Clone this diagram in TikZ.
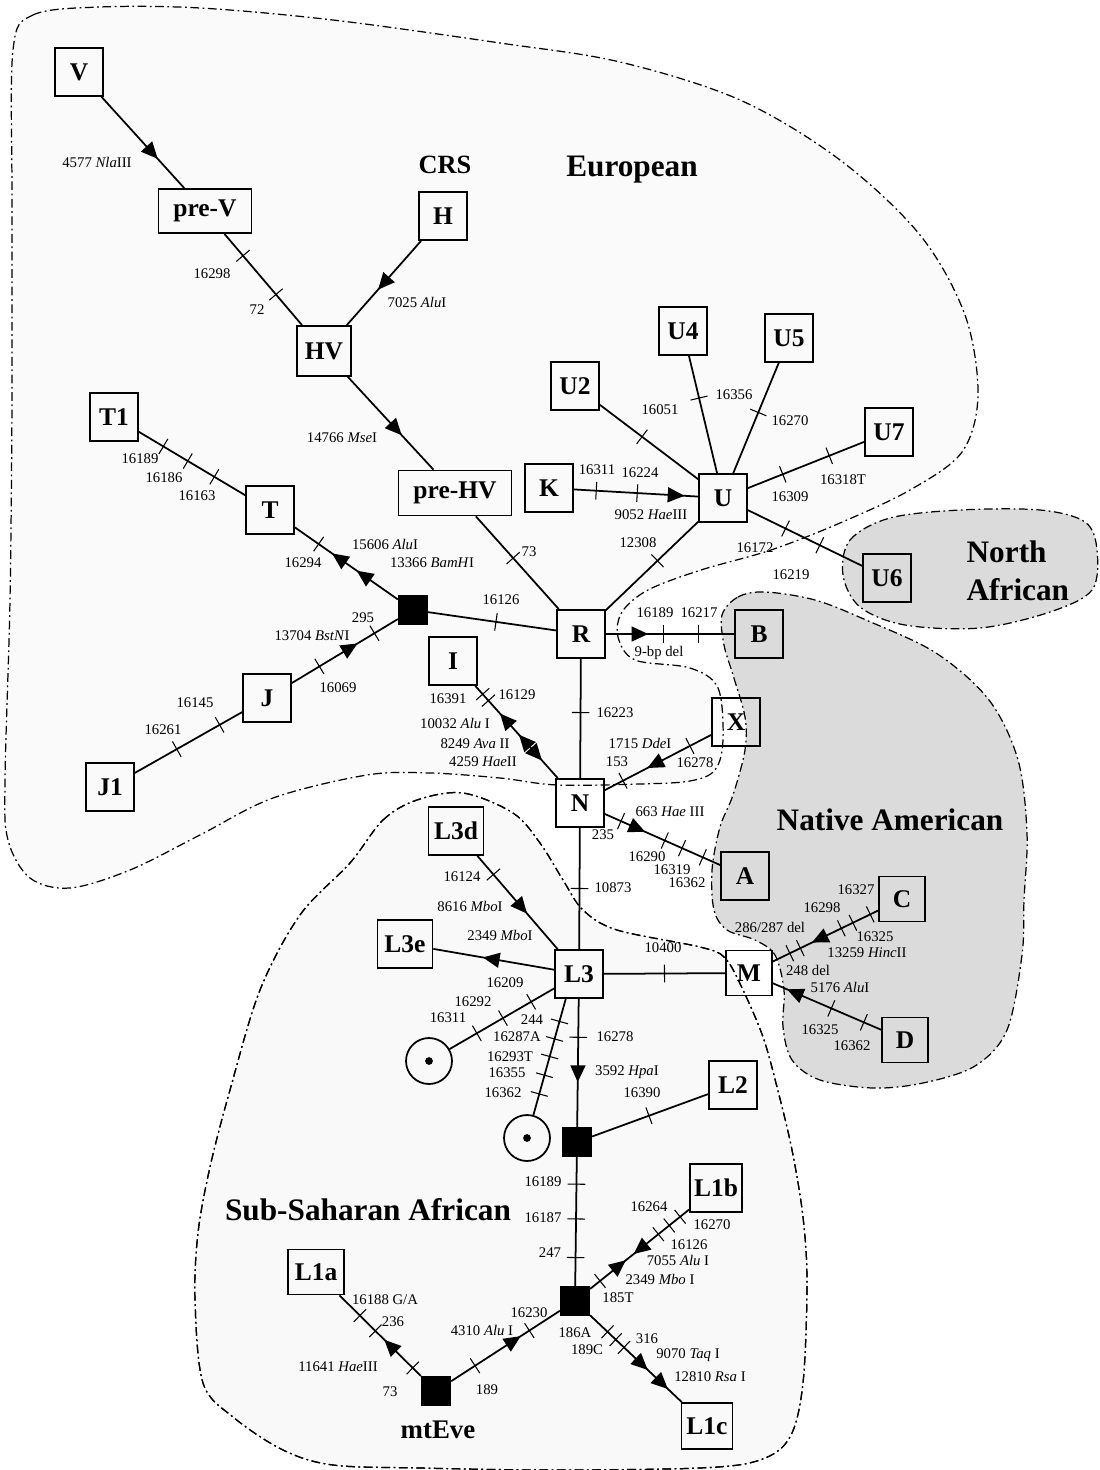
\documentclass[tikz,border=0pt]{standalone}
\usepackage{fontspec}
\setmainfont{Liberation Serif}
\usepackage{tikz}
\usetikzlibrary{arrows.meta, decorations.markings}
\tikzset{every picture/.style={line width=1pt}}

\begin{document}
\begin{tikzpicture}[x=0.02cm, y=-0.02cm,
    hap/.style={draw, minimum width=0.96cm, minimum height=0.96cm, inner sep=1pt,
      font=\fontsize{14.5}{16}\selectfont\bfseries},
    blk/.style={draw, fill=black, minimum size=0.57cm, inner sep=0pt},
    ring/.style={draw, circle, minimum size=0.92cm, inner sep=0pt},
    lab/.style={inner sep=1pt, font=\fontsize{8.4}{9.5}\selectfont},
    grp/.style={inner sep=1pt, font=\fontsize{17.8}{21.5}\selectfont\bfseries},
    zone/.style={line width=0.7pt, dash pattern=on 5pt off 2pt on 1pt off 2pt},
    tk/.style={postaction={decorate, decoration={markings,
      mark=at position #1 with {\draw[line width=0.6pt] (0,-5pt) -- (0,5pt);}}}},
    ar/.style={postaction={decorate, decoration={markings,
      mark=at position #1 with {\arrow{Triangle[length=9.5pt,width=8.5pt]}}}}},
    ra/.style={postaction={decorate, decoration={markings,
      mark=at position #1 with {\arrowreversed{Triangle[length=9.5pt,width=8.5pt]}}}}}]
  \useasboundingbox (0,0) rectangle (1099,1470);

  % regions
  \filldraw[zone, fill=gray!4] plot[smooth cycle, tension=0.55] coordinates {
    (13,50) (33,15) (100,7) (200,8) (333,20) (500,43) (620,62) (740,100) (840,160)
    (920,235) (965,315) (978,395) (962,452) (910,490) (840,523) (771,550) (701,570)
    (648,590) (622,612) (618,637) (635,660) (690,668) (718,688) (723,740) (715,770)
    (690,781) (640,784) (557,785) (500,778) (430,773) (367,775) (273,798) (200,835)
    (130,870) (70,888) (30,878) (8,840) (5,780) (10,600) (12,400) (12,200)};
  \filldraw[zone, fill=gray!5] plot[smooth cycle, tension=0.55] coordinates {
    (350,863) (383,820) (417,800) (463,793) (513,813) (540,843) (563,880) (583,910)
    (617,930) (700,947) (725,958) (743,990) (763,1037) (777,1087) (792,1150)
    (803,1217) (807,1283) (803,1383) (790,1437) (760,1460) (700,1468) (550,1470)
    (420,1468) (333,1465) (283,1450) (233,1417) (203,1383) (195,1300) (198,1233)
    (210,1167) (230,1090) (260,990) (300,915)};
  \filldraw[zone, fill=gray!28] plot[smooth cycle, tension=0.55] coordinates {
    (843,575) (850,540) (890,518) (960,510) (1040,510) (1085,522) (1097,550)
    (1092,590) (1050,612) (980,628) (905,625) (860,607)};
  \filldraw[zone, fill=gray!28] plot[smooth cycle, tension=0.55] coordinates {
    (722,615) (738,597) (765,592) (815,600) (866,620) (936,653) (989,700)
    (1018,760) (1027,833) (1024,900) (1022,955) (1007,1030) (975,1066) (923,1083)
    (873,1088) (820,1080) (792,1060) (783,1027) (784,990) (775,955) (755,940)
    (727,930) (714,910) (712,870) (720,827) (733,795) (745,750) (745,717)
    (733,675) (724,645)};
  \draw[zone] plot[smooth cycle, tension=0.55] coordinates {
    (350,863) (383,820) (417,800) (463,793) (513,813) (540,843) (563,880) (583,910)
    (617,930) (700,947) (725,958) (743,990) (763,1037) (777,1087) (792,1150)
    (803,1217) (807,1283) (803,1383) (790,1437) (760,1460) (700,1468) (550,1470)
    (420,1468) (333,1465) (283,1450) (233,1417) (203,1383) (195,1300) (198,1233)
    (210,1167) (230,1090) (260,990) (300,915)};

  \node[grp] (eu) at (632,170) {European};
  \node[grp, align=left, anchor=west] (na) at (964,571) {North\\African};
  \node[grp] (am) at (890,820) {Native American};
  \node[grp] (ss) at (368,1210) {Sub-Saharan African};
  \node[inner sep=1pt, font=\fontsize{15}{17}\selectfont\bfseries] (crs) at (445,165) {CRS};
  \node[inner sep=1pt, font=\fontsize{15.3}{17}\selectfont\bfseries] (eve) at (438,1430) {mtEve};

  % haplogroups
  \node[hap] (V) at (79,72) {V};
  \node[hap, minimum width=1.86cm, minimum height=0.88cm] (preV) at (205,211) {pre-V};
  \node[hap] (H) at (443,216) {H};
  \node[hap, minimum width=1.08cm, minimum height=1cm] (HV) at (324,351) {HV};
  \node[hap, minimum width=2.26cm, minimum height=0.9cm] (preHV) at (455,493) {pre-HV};
  \node[hap] (T1) at (114,417) {T1};
  \node[hap] (T) at (270,510) {T};
  \node[blk] (b1) at (413,610) {};
  \node[hap] (J) at (267,698) {J};
  \node[hap] (J1) at (110,787) {J1};
  \node[hap] (I) at (453,661) {I};
  \node[hap] (R) at (581,634) {R};
  \node[hap] (K) at (549,488) {K};
  \node[hap] (U) at (723,498) {U};
  \node[hap] (U2) at (575,386) {U2};
  \node[hap] (U4) at (683,331) {U4};
  \node[hap] (U5) at (789,338) {U5};
  \node[hap] (U7) at (889,432) {U7};
  \node[hap] (U6) at (887,578) {U6};
  \node[hap] (B) at (759,634) {B};
  \node[hap] (X) at (736,722) {X};
  \node[hap] (N) at (580,803) {N};
  \node[hap] (A) at (745,876) {A};
  \node[hap, minimum width=1.1cm] (L3d) at (456,831) {L3d};
  \node[hap, minimum width=1.1cm] (L3e) at (405,944) {L3e};
  \node[hap] (L3) at (579,974) {L3};
  \node[hap, minimum width=0.92cm, minimum height=0.9cm] (M) at (749,973) {M};
  \node[hap, minimum width=0.92cm, minimum height=0.9cm] (C) at (902,899) {C};
  \node[hap, minimum width=0.92cm, minimum height=0.9cm] (D) at (905,1040) {D};
  \node[ring] (c1) at (429,1061) {};
  \node[ring] (c2) at (527,1138) {};
  \node[blk] (b2) at (577,1142) {};
  \node[hap] (L2) at (733,1085) {L2};
  \node[hap, minimum width=1.04cm] (L1b) at (716,1188) {L1b};
  \node[blk] (b3) at (575,1301) {};
  \node[hap, minimum width=1.02cm, minimum height=0.92cm] (L1c) at (707,1426) {L1c};
  \node[hap, minimum width=1.12cm, minimum height=0.9cm] (L1a) at (316,1272) {L1a};
  \node[blk] (mt) at (436,1391) {};
  \coordinate (L3s) at (566,998);
  \fill (c1.center) circle (2.2pt);
  \fill (c2.center) circle (2.2pt);

  \draw
    (V) edge[ar=0.68] (preV)
    (preV) edge[tk=0.24, tk=0.665] (HV)
    (H) edge[ar=0.58] (HV)
    (HV) edge[ar=0.63] (preHV)
    (preHV) edge[tk=0.45] (R)
    (R) edge[tk=0.56] (U)
    (K) edge[tk=0.18, tk=0.51, ar=0.89] (U)
    (U2) edge[tk=0.43] (U)
    (U4) edge[tk=0.36] (U)
    (U5) edge[tk=0.45] (U)
    (U) edge[tk=0.30, tk=0.70] (U7)
    (U) edge[tk=0.33, tk=0.63] (U6)
    (b1) edge[tk=0.53] (R)
    (b1) edge[ar=0.40, ar=0.64, tk=0.77] (T)
    (T) edge[tk=0.29, tk=0.54, tk=0.77] (T1)
    (J) edge[tk=0.26, ar=0.62, tk=0.78] (b1)
    (J) edge[tk=0.21, tk=0.61] (J1)
    (R) edge[ar=0.33, tk=0.45, tk=0.72] (B)
    (R) edge[tk=0.45] (N)
    (I) edge[tk=0.09, tk=0.16, ra=0.30, ra=0.53, ar=0.81] (N)
    (X) edge[tk=0.20, ar=0.60, tk=0.83] (N)
    (N) edge[tk=0.14, ar=0.35, tk=0.52, tk=0.67, tk=0.85] (A)
    (N) edge[tk=0.50] (L3)
    (L3d) edge[tk=0.20, ar=0.62] (L3)
    (L3) edge[ar=0.59] (L3e)
    (L3) edge[tk=0.50] (M)
    (L3) edge[tk=0.22, tk=0.49, tk=0.74] (c1)
    (L3s) edge[tk=0.20, tk=0.35, tk=0.50, tk=0.66, tk=0.82] (c2)
    (L3) edge[tk=0.30, ar=0.65] (b2)
    (b2) edge[tk=0.49] (L2)
    (b2) edge[tk=0.21, tk=0.48, tk=0.78] (b3)
    (b3) edge[tk=0.10, ar=0.36, ra=0.44, tk=0.69, tk=0.80, tk=0.91] (L1b)
    (b3) edge[tk=0.19, tk=0.28, tk=0.37, ar=0.63, ar=0.85] (L1c)
    (mt) edge[tk=0.22, ar=0.64, tk=0.72] (b3)
    (mt) edge[tk=0.10, ar=0.45, tk=0.56, tk=0.75] (L1a)
    (C) edge[tk=0.075, tk=0.24, tk=0.35, ar=0.63, tk=0.74, tk=0.84] (M)
    (D) edge[tk=0.16, tk=0.46, ar=0.87] (M);

  % mutations
  \node[lab] (m4577) at (97,162) {4577 \textit{Nla}III};
  \node[lab] (m16298) at (212,274) {16298};
  \node[lab] (m72) at (257,310) {72};
  \node[lab] (m7025) at (417,302) {7025 \textit{Alu}I};
  \node[lab] (m14766) at (342,438) {14766 \textit{Mse}I};
  \node[lab] (m16189) at (140,459) {16189};
  \node[lab] (m16186) at (164,478) {16186};
  \node[lab] (m16163) at (197,496) {16163};
  \node[lab] (m16294) at (303,563) {16294};
  \node[lab] (m15606) at (385,544) {15606 \textit{Alu}I};
  \node[lab] (m13366) at (432,563) {13366 \textit{BamH}I};
  \node[lab] (m295) at (363,618) {295};
  \node[lab] (m13704) at (312,636) {13704 \textit{BstN}I};
  \node[lab] (m16069) at (338,688) {16069};
  \node[lab] (m16145) at (195,703) {16145};
  \node[lab] (m16261) at (163,730) {16261};
  \node[lab] (m16391) at (448,699) {16391};
  \node[lab] (m16129) at (517,695) {16129};
  \node[lab] (m10032) at (455,723) {10032 \textit{Alu} I};
  \node[lab] (m8249) at (475,744) {8249 \textit{Ava} II};
  \node[lab] (m4259) at (483,762) {4259 \textit{Hae}II};
  \node[lab] (m16223) at (615,713) {16223};
  \node[lab] (m1715) at (640,743) {1715 \textit{Dde}I};
  \node[lab] (m153) at (617,762) {153};
  \node[lab] (m16278a) at (695,763) {16278};
  \node[lab] (m663) at (670,812) {663 \textit{Hae} III};
  \node[lab] (m235) at (603,835) {235};
  \node[lab] (m16290) at (647,857) {16290};
  \node[lab] (m16319) at (672,870) {16319};
  \node[lab] (m16362a) at (687,883) {16362};
  \node[lab] (m10873) at (613,888) {10873};
  \node[lab] (m16051) at (660,410) {16051};
  \node[lab] (m16356) at (734,395) {16356};
  \node[lab] (m16270a) at (790,421) {16270};
  \node[lab] (m16309) at (790,497) {16309};
  \node[lab] (m16318) at (843,480) {16318T};
  \node[lab] (m16172) at (755,548) {16172};
  \node[lab] (m16219) at (791,575) {16219};
  \node[lab] (m12308) at (638,543) {12308};
  \node[lab] (m73a) at (529,552) {73};
  \node[lab] (m16126a) at (501,600) {16126};
  \node[lab] (m16311a) at (597,470) {16311};
  \node[lab] (m16224) at (640,473) {16224};
  \node[lab] (m9052) at (651,515) {9052 \textit{Hae}III};
  \node[lab] (m16189a) at (655,613) {16189};
  \node[lab] (m16217) at (699,613) {16217};
  \node[lab] (m9bp) at (659,653) {9-bp del};
  \node[lab] (m16124) at (462,877) {16124};
  \node[lab] (m8616) at (470,906) {8616 \textit{Mbo}I};
  \node[lab] (m2349a) at (500,935) {2349 \textit{Mbo}I};
  \node[lab] (m10400) at (663,948) {10400};
  \node[lab] (m16209) at (505,983) {16209};
  \node[lab] (m16292) at (473,1002) {16292};
  \node[lab] (m16311b) at (448,1018) {16311};
  \node[lab] (m244) at (532,1020) {244};
  \node[lab] (m16287) at (517,1037) {16287A};
  \node[lab] (m16293) at (510,1057) {16293T};
  \node[lab] (m16355) at (507,1073) {16355};
  \node[lab] (m16362b) at (503,1093) {16362};
  \node[lab] (m16278b) at (615,1037) {16278};
  \node[lab] (m3592) at (627,1072) {3592 \textit{Hpa}I};
  \node[lab] (m16390) at (642,1093) {16390};
  \node[lab] (m16189b) at (543,1182) {16189};
  \node[lab] (m16187) at (543,1218) {16187};
  \node[lab] (m247) at (550,1253) {247};
  \node[lab] (m16264) at (649,1207) {16264};
  \node[lab] (m16270b) at (712,1225) {16270};
  \node[lab] (m16126b) at (689,1245) {16126};
  \node[lab] (m7055) at (678,1260) {7055 \textit{Alu} I};
  \node[lab] (m2349b) at (660,1279) {2349 \textit{Mbo} I};
  \node[lab] (m185) at (618,1298) {185T};
  \node[lab] (m16230) at (529,1313) {16230};
  \node[lab] (m186) at (575,1333) {186A};
  \node[lab] (m189c) at (587,1350) {189C};
  \node[lab] (m316) at (647,1339) {316};
  \node[lab] (m9070) at (688,1355) {9070 \textit{Taq} I};
  \node[lab] (m12810) at (710,1377) {12810 \textit{Rsa} I};
  \node[lab] (m16188) at (385,1300) {16188 G/A};
  \node[lab] (m236) at (393,1322) {236};
  \node[lab] (m11641) at (338,1367) {11641 \textit{Hae}III};
  \node[lab] (m73b) at (390,1392) {73};
  \node[lab] (m189) at (487,1390) {189};
  \node[lab] (m4310) at (482,1330) {4310 \textit{Alu} I};
  \node[lab] (m16327) at (856,890) {16327};
  \node[lab] (m16298b) at (822,908) {16298};
  \node[lab] (m286) at (770,927) {286/287 del};
  \node[lab] (m16325a) at (875,937) {16325};
  \node[lab] (m13259) at (867,953) {13259 \textit{Hinc}II};
  \node[lab] (m248) at (808,970) {248 del};
  \node[lab] (m5176) at (840,987) {5176 \textit{Alu}I};
  \node[lab] (m16325b) at (820,1030) {16325};
  \node[lab] (m16362c) at (852,1046) {16362};
\end{tikzpicture}
\end{document}
